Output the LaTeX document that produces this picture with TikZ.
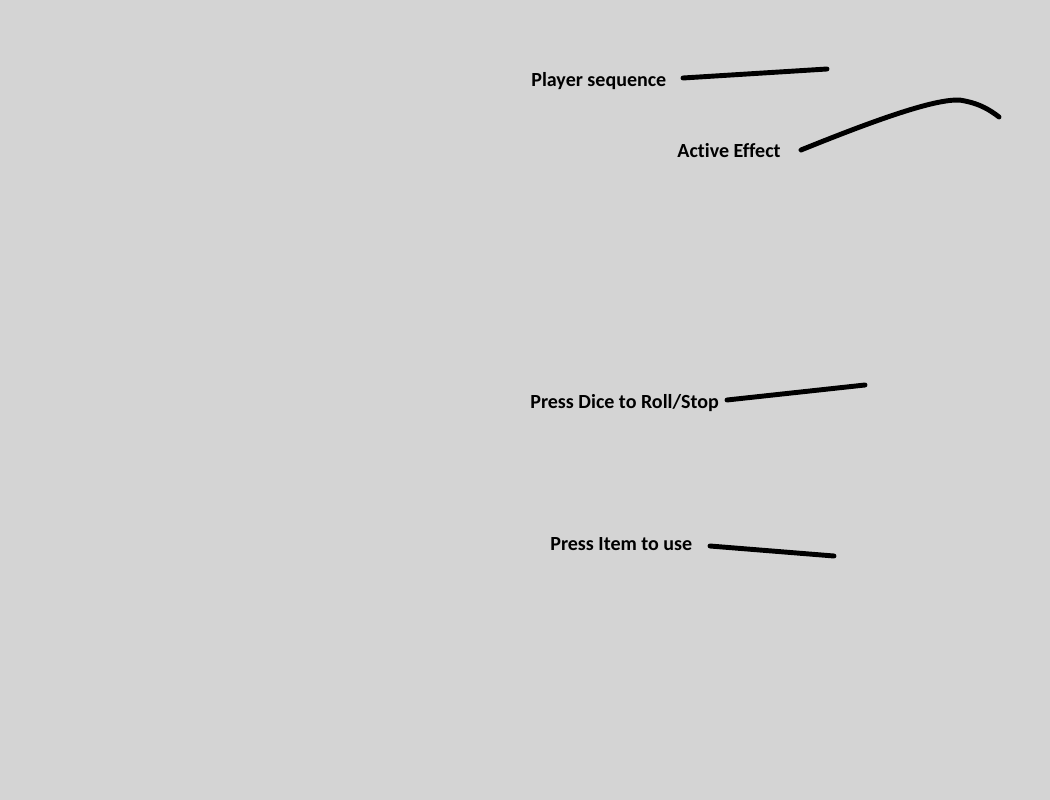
\documentclass[tikz,border=0pt]{standalone}
\usepackage{fontspec}
\setmainfont[Ligatures=NoCommon]{Carlito}
\definecolor{bggray}{RGB}{212, 212, 212}
\usetikzlibrary{positioning}

\begin{document}
\begin{tikzpicture}[x=0.02cm, y=-0.02cm,
    label/.style={anchor=west, inner sep=0pt, font=\bfseries\fontsize{11.4}{13}\selectfont},
    stroke/.style={line width=2.8pt, line cap=round, black}]
  % Background
  \fill[bggray] (0,0) rectangle (1050,800);
  \useasboundingbox (0,0) rectangle (1050,800);

  % Labels
  \node[label] (seq) at (531, 81) {Player sequence};
  \node[label] (eff) at (677, 151) {Active Effect};
  \node[label] (dice) at (530, 403) {Press Dice to Roll/Stop};
  \node[label] (item) at (550, 544) {Press Item to use};

  % Line ends
  \coordinate (seqA) at (683, 78);
  \coordinate (seqB) at (827, 69);
  \coordinate (effA) at (801, 150);
  \coordinate (effB) at (999, 117);
  \coordinate (diceA) at (727, 400);
  \coordinate (diceB) at (865, 385);
  \coordinate (itemA) at (710, 546);
  \coordinate (itemB) at (834, 556);

  % Strokes
  \draw[stroke] (seqA) -- (seqB);
  \draw[stroke] (effA) .. controls (880, 118) and (945, 95) .. (965, 101)
    .. controls (980, 104) and (990, 110) .. (effB);
  \draw[stroke] (diceA) -- (diceB);
  \draw[stroke] (itemA) -- (itemB);
\end{tikzpicture}
\end{document}
